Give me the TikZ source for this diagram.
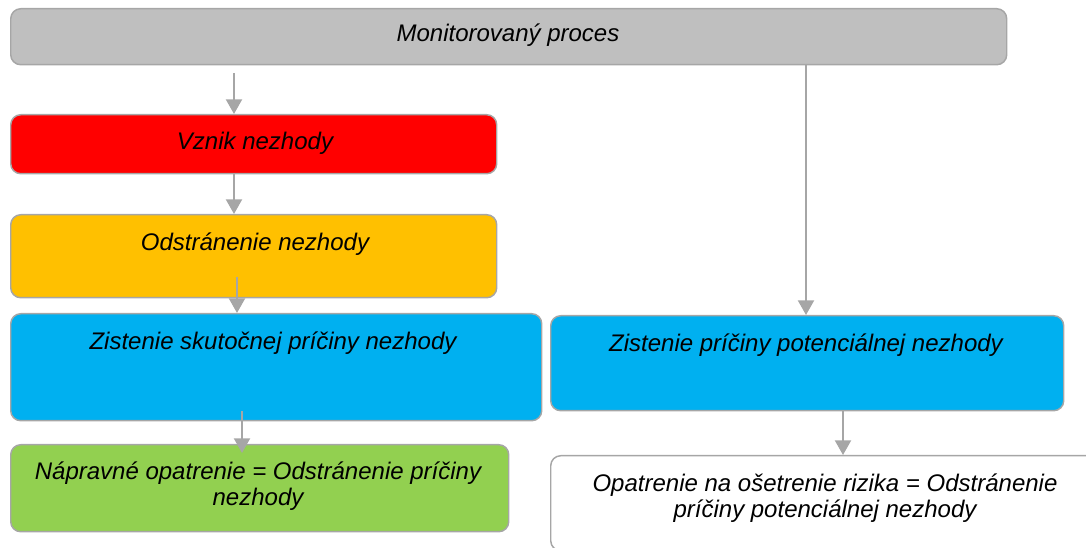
\documentclass[tikz,border=0pt]{standalone}
\usepackage{fontspec}
\setmainfont{Liberation Sans}
\usetikzlibrary{arrows.meta}
\definecolor{edgegray}{HTML}{A6A6A6}
\definecolor{procgray}{HTML}{BFBFBF}
\definecolor{ncred}{HTML}{FF0000}
\definecolor{ncorange}{HTML}{FFC000}
\definecolor{ncblue}{HTML}{00B0F0}
\definecolor{ncgreen}{HTML}{92D050}
\tikzset{
  box/.style={draw=edgegray, line width=1.1pt, rounded corners=7.5pt,
    inner sep=0pt, anchor=north west},
  lbl/.style={font=\fontsize{18}{19.5}\selectfont\itshape, align=center, inner sep=0pt},
  flow/.style={draw=edgegray, line width=1.6pt,
    -{Triangle[length=11pt,width=12pt]}},
}
\begin{document}
\begin{tikzpicture}[x=0.75pt, y=-0.75pt]
\useasboundingbox (0,0) rectangle (1086,548);

% boxes
\node[box, fill=procgray, minimum width=996*0.75pt, minimum height=56*0.75pt] (proc) at (10,8) {};
\node[box, fill=ncred, minimum width=486*0.75pt, minimum height=59*0.75pt] (vznik) at (10,114) {};
\node[box, fill=ncorange, minimum width=486*0.75pt, minimum height=83*0.75pt] (odstr) at (10,214) {};
\node[box, fill=ncblue, minimum width=531*0.75pt, minimum height=107*0.75pt] (skut) at (10,313) {};
\node[box, fill=ncgreen, minimum width=498*0.75pt, minimum height=87*0.75pt] (naprav) at (10,444) {};
\node[box, fill=ncblue, minimum width=513*0.75pt, minimum height=95*0.75pt] (poten) at (550,315) {};
\node[box, fill=white, minimum width=560*0.75pt, minimum height=95*0.75pt] (riziko) at (550,455) {};

% connector end points
\coordinate (s1) at (234,73);
\coordinate (s2) at (234,173);
\coordinate (s3) at (237,277);
\coordinate (s4) at (242,411);
\coordinate (e4) at (242,453);
\coordinate (s5) at (806,64);
\coordinate (s6) at (843,410);

% connectors
\draw[flow] (s1) -- (s1 |- vznik.north);
\draw[flow] (s2) -- (s2 |- odstr.north);
\draw[flow] (s3) -- (s3 |- skut.north);
\draw[flow] (s4) -- (e4);
\draw[flow] (s5) -- (s5 |- poten.north);
\draw[flow] (s6) -- (s6 |- riziko.north);

% labels
\node[lbl] (proc-t) at (508,35) {Monitorovaný proces};
\node[lbl] (vznik-t) at (255,143) {Vznik nezhody};
\node[lbl] (odstr-t) at (255,244) {Odstránenie nezhody};
\node[lbl] (skut-t) at (273,343) {Zistenie skutočnej príčiny nezhody};
\node[lbl] (naprav-t) at (258,486) {Nápravné opatrenie = Odstránenie príčiny\\nezhody};
\node[lbl] (poten-t) at (806,345) {Zistenie príčiny potenciálnej nezhody};
\node[lbl] (riziko-t) at (825,498) {Opatrenie na ošetrenie rizika = Odstránenie\\príčiny potenciálnej nezhody};
\end{tikzpicture}
\end{document}
